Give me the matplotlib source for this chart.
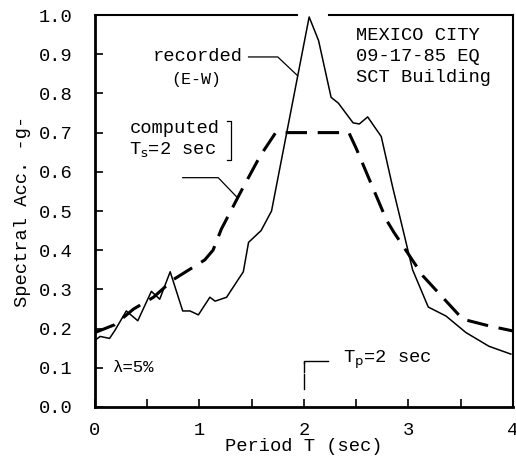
import numpy as np
import matplotlib
matplotlib.use("Agg")
import matplotlib.pyplot as plt

# =============================================================================
# DATA
# =============================================================================

rec_T = [0.0, 0.05, 0.14, 0.19, 0.30, 0.41, 0.54, 0.62, 0.72, 0.84, 0.91, 0.99,
         1.10, 1.15, 1.26, 1.42, 1.47, 1.59, 1.69, 2.05, 2.14, 2.26, 2.33,
         2.47, 2.53, 2.61, 2.74, 2.85, 2.95, 3.04, 3.19, 3.36, 3.55, 3.77, 3.98]
rec_S = [0.17, 0.18, 0.175, 0.195, 0.245, 0.22, 0.295, 0.275, 0.345, 0.245, 0.245, 0.235,
         0.28, 0.27, 0.28, 0.345, 0.42, 0.45, 0.50, 0.995, 0.935, 0.79, 0.775,
         0.725, 0.722, 0.74, 0.69, 0.56, 0.45, 0.35, 0.255, 0.232, 0.19, 0.155, 0.135]

comp_T = [0.0, 0.19, 0.37, 0.56, 0.75, 0.96, 1.05, 1.13, 1.21, 1.39, 1.58, 1.73,
          2.43, 2.50, 2.79, 2.86, 3.14, 3.52, 3.77, 4.0]
comp_S = [0.19, 0.21, 0.25, 0.28, 0.325, 0.36, 0.375, 0.40, 0.454, 0.546, 0.64, 0.70,
          0.70, 0.66, 0.477, 0.446, 0.334, 0.224, 0.207, 0.194]

y_ticks = np.round(np.arange(0, 1.01, 0.1), 1)
x_ticks = [0, 1, 2, 3, 4]

FONT = "Liberation Mono"
FS = 13.5

# =============================================================================
# FIGURE
# =============================================================================

fig = plt.figure(figsize=(5.16, 4.59), dpi=100)
ax = fig.add_axes([0.184, 0.1133, 0.81, 0.854])

ax.plot(rec_T, rec_S, color="black", lw=1.1)
ax.plot(comp_T, comp_S, color="black", lw=2.2, dashes=(7, 3.5))

ax.set_xlim(0, 4)
ax.set_ylim(0, 1.0)

ax.set_yticks(y_ticks)
ax.set_yticklabels([f"{v:.1f}" for v in y_ticks], fontfamily=FONT, fontsize=FS)
ax.set_xticks(x_ticks)
ax.set_xticklabels([str(v) for v in x_ticks], fontfamily=FONT, fontsize=FS)
ax.set_xticks(np.arange(0.5, 4, 1.0), minor=True)
ax.tick_params(axis="both", which="both", direction="in", length=6, width=1.2)
ax.tick_params(axis="y", pad=16)
ax.tick_params(axis="x", pad=11)
ax.tick_params(axis="y", which="both", right=False)
ax.tick_params(axis="x", which="both", top=False)

ax.spines["left"].set_linewidth(2.0)
ax.spines["bottom"].set_linewidth(2.0)
ax.spines["right"].set_linewidth(1.5)
ax.spines["top"].set_visible(False)

# top border with gap around the peak
ax.plot([0, 1.93], [1.0, 1.0], color="black", lw=1.5, clip_on=False)
ax.plot([2.24, 4.0], [1.0, 1.0], color="black", lw=1.5, clip_on=False)

ax.set_ylabel("Spectral Acc. -g-", fontfamily=FONT, fontsize=FS, labelpad=6)
ax.set_xlabel("Period T (sec)", fontfamily=FONT, fontsize=FS, labelpad=-1)

# annotations
ax.text(1.41, 0.895, "recorded", fontfamily=FONT, fontsize=FS, ha="right", va="center")
ax.text(0.97, 0.835, "(E-W)", fontfamily=FONT, fontsize=FS - 1.5, ha="center", va="center")
ax.plot([1.47, 1.75, 1.94], [0.893, 0.893, 0.845], color="black", lw=0.9)

ax.text(0.33, 0.71, "computed", fontfamily=FONT, fontsize=FS, ha="left", va="center")
ax.text(0.33, 0.655, r"T$_{\rm s}$=2 sec", fontfamily=FONT, fontsize=FS, ha="left", va="center")
ax.plot([1.26, 1.30, 1.30, 1.26], [0.73, 0.73, 0.63, 0.63], color="black", lw=0.9)
ax.plot([0.84, 1.18, 1.36], [0.585, 0.585, 0.535], color="black", lw=0.9)

ax.text(2.5, 0.97, "MEXICO CITY\n09-17-85 EQ\nSCT Building", fontfamily=FONT,
        fontsize=FS, ha="left", va="top", linespacing=1.3)

ax.text(0.16, 0.1, "λ=5%", fontfamily=FONT, fontsize=FS - 1, ha="left", va="center")

ax.plot([2.0, 2.0], [0.045, 0.085], color="black", lw=1.0)
ax.plot([2.0, 2.0], [0.09, 0.115], color="black", lw=1.0)
ax.plot([2.0, 2.0, 2.23], [0.112, 0.118, 0.118], color="black", lw=1.0)
ax.text(2.37, 0.12, r"T$_{\rm p}$=2 sec", fontfamily=FONT, fontsize=FS, ha="left", va="center")

plt.savefig("out.png", dpi=100)
plt.close()
